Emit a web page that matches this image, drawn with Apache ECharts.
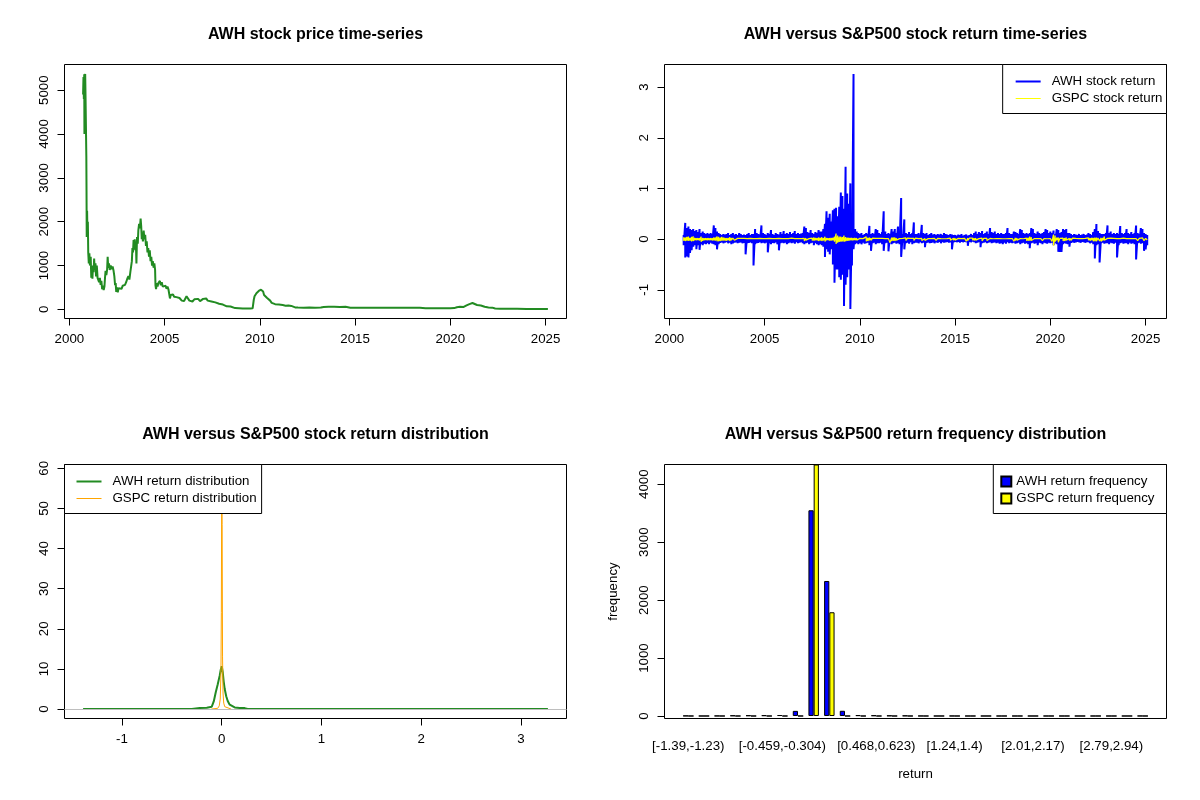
<!DOCTYPE html>
<html>
<head>
<meta charset="utf-8">
<script src="https://cdn.jsdelivr.net/npm/echarts@6/dist/echarts.min.js"></script>
<style>
html, body { margin: 0; padding: 0; background: #fff; }
#chart { width: 1200px; height: 800px; }
</style>
</head>
<body>
<div id="chart"></div>
<script>
// ---- panel 1: AWH price (decimal year, close) ----
var priceDates = [2000.72, 2000.74, 2000.76, 2000.78, 2000.79, 2000.81, 2000.83, 2000.85, 2000.87, 2000.89,
  2000.90, 2000.91, 2000.93, 2000.95, 2000.97, 2000.99, 2001.02, 2001.05, 2001.08, 2001.12,
  2001.15, 2001.18, 2001.21, 2001.24, 2001.27, 2001.30, 2001.33, 2001.37, 2001.40, 2001.44,
  2001.48, 2001.52, 2001.56, 2001.60, 2001.64, 2001.68, 2001.72, 2001.76, 2001.80, 2001.84,
  2001.87, 2001.90, 2001.94, 2001.98, 2002.01, 2002.04, 2002.08, 2002.12, 2002.17, 2002.22,
  2002.27, 2002.32, 2002.36, 2002.40, 2002.43, 2002.46, 2002.50, 2002.54, 2002.58, 2002.63,
  2002.68, 2002.74, 2002.80, 2002.86, 2002.92, 2002.98, 2003.04, 2003.10, 2003.15, 2003.20,
  2003.25, 2003.28, 2003.31, 2003.34, 2003.37, 2003.40, 2003.43, 2003.46, 2003.49, 2003.52,
  2003.55, 2003.59, 2003.62, 2003.66, 2003.70, 2003.74, 2003.77, 2003.80, 2003.83, 2003.86,
  2003.90, 2003.94, 2003.98, 2004.02, 2004.06, 2004.10, 2004.14, 2004.18, 2004.22, 2004.26,
  2004.30, 2004.34, 2004.38, 2004.42, 2004.46, 2004.50, 2004.52, 2004.55, 2004.59, 2004.63,
  2004.67, 2004.71, 2004.75, 2004.80, 2004.85, 2004.90, 2004.95, 2005.00, 2005.05, 2005.10,
  2005.15, 2005.20, 2005.25, 2005.28, 2005.32, 2005.38, 2005.44, 2005.50, 2005.56, 2005.62,
  2005.70, 2005.78, 2005.86, 2005.90, 2005.96, 2006.02, 2006.08, 2006.15, 2006.22, 2006.30,
  2006.38, 2006.46, 2006.56, 2006.66, 2006.76, 2006.86, 2006.96, 2007.02, 2007.05, 2007.10,
  2007.18, 2007.26, 2007.36, 2007.46, 2007.56, 2007.66, 2007.76, 2007.86, 2007.96, 2008.06,
  2008.16, 2008.26, 2008.36, 2008.46, 2008.56, 2008.70, 2008.90, 2009.10, 2009.30, 2009.50,
  2009.62, 2009.66, 2009.68, 2009.72, 2009.76, 2009.82, 2009.88, 2009.94, 2010.00, 2010.06,
  2010.10, 2010.13, 2010.17, 2010.22, 2010.30, 2010.38, 2010.46, 2010.54, 2010.62, 2010.70,
  2010.80, 2010.90, 2011.00, 2011.10, 2011.20, 2011.35, 2011.50, 2011.65, 2011.75, 2011.85,
  2012.00, 2012.30, 2012.60, 2012.90, 2013.20, 2013.35, 2013.60, 2013.90, 2014.20, 2014.50,
  2014.75, 2015.00, 2015.50, 2016.00, 2016.50, 2017.00, 2017.30, 2017.60, 2018.00, 2018.40,
  2018.70, 2019.00, 2019.50, 2020.00, 2020.20, 2020.34, 2020.50, 2020.70, 2020.85, 2021.00,
  2021.10, 2021.16, 2021.25, 2021.40, 2021.60, 2021.80, 2022.00, 2022.20, 2022.35, 2022.60,
  2023.00, 2023.50, 2024.00, 2024.50, 2025.00, 2025.12];
var priceValues = [4900, 5300, 4800, 5360, 4000, 5200, 5370, 4800, 4830, 3500,
  2700, 1650, 2250, 1700, 2000, 1300, 1050, 1280, 1000, 1200,
  720, 950, 700, 1000, 850, 1160, 900, 1050, 750, 1000,
  720, 750, 620, 720, 560, 650, 460, 540, 440, 520,
  720, 880, 780, 900, 1200, 950, 1050, 900, 1000, 920,
  980, 880, 760, 550, 600, 400, 500, 390, 480, 450,
  520, 470, 540, 500, 560, 620, 700, 760, 680, 850,
  820, 1100, 1400, 1300, 1580, 1450, 1600, 1350, 1550, 1050,
  1650, 1500, 1800, 1950, 1850, 2070, 1900, 1600, 1750, 1550,
  1800, 1600, 1700, 1450, 1550, 1300, 1400, 1200, 1350, 1100,
  1200, 1000, 1100, 950, 1050, 900, 550, 460, 600, 520,
  600, 560, 650, 550, 620, 520, 560, 480, 540, 470,
  520, 460, 480, 250, 330, 300, 340, 290, 320, 280,
  300, 260, 290, 200, 230, 190, 230, 300, 270, 200,
  220, 180, 230, 200, 240, 190, 210, 240, 280, 230,
  250, 200, 220, 180, 190, 160, 180, 130, 140, 110,
  120, 70, 60, 65, 40, 30, 25, 20, 22, 20,
  25, 60, 220, 300, 280, 370, 340, 420, 400, 450,
  420, 490, 410, 330, 300, 260, 220, 200, 150, 130,
  120, 100, 110, 95, 100, 85, 90, 80, 60, 45,
  42, 40, 42, 40, 43, 55, 58, 60, 55, 58,
  38, 36, 38, 35, 37, 35, 40, 36, 38, 35,
  28, 26, 28, 25, 30, 50, 58, 55, 90, 120,
  135, 145, 110, 100, 90, 60, 45, 40, 20, 15,
  13, 12, 10, 9, 8, 7];

// ---- panel 2: monthly envelope of daily returns, Oct 2000 .. Feb 2025 ----
var retStart = 2000.75;
var awhHi = [0.08, 0.32, 0.22,
  0.25, 0.2, 0.18, 0.2, 0.16, 0.18, 0.14, 0.2, 0.12, 0.15, 0.12, 0.1,      // 2001
  0.12, 0.1, 0.12, 0.1, 0.27, 0.22, 0.15, 0.12, 0.1, 0.08, 0.1, 0.09,      // 2002
  0.1, 0.12, 0.08, 0.1, 0.12, 0.09, 0.1, 0.08, 0.12, 0.1, 0.08, 0.09,      // 2003
  0.08, 0.1, 0.12, 0.08, 0.1, 0.1, 0.2, 0.12, 0.1, 0.09, 0.27, 0.12,       // 2004
  0.1, 0.08, 0.12, 0.1, 0.18, 0.1, 0.08, 0.12, 0.1, 0.09, 0.14, 0.1,       // 2005
  0.16, 0.1, 0.12, 0.1, 0.14, 0.1, 0.12, 0.16, 0.1, 0.12, 0.1, 0.11,       // 2006
  0.12, 0.25, 0.22, 0.14, 0.12, 0.18, 0.12, 0.1, 0.14, 0.12, 0.18, 0.15,   // 2007
  0.15, 0.2, 0.3, 0.55, 0.42, 0.5, 0.35, 0.57, 0.6, 0.62, 0.45, 0.64,      // 2008
  0.92, 0.85, 0.6, 1.43, 0.9, 0.7, 1.1, 0.5, 3.26, 0.2, 0.15, 0.12,        // 2009
  0.1, 0.12, 0.08, 0.1, 0.12, 0.1, 0.26, 0.1, 0.12, 0.1, 0.2, 0.18,        // 2010
  0.12, 0.1, 0.14, 0.55, 0.15, 0.1, 0.12, 0.1, 0.2, 0.15, 0.2, 0.12,       // 2011
  0.25, 0.12, 0.81, 0.1, 0.39, 0.12, 0.1, 0.14, 0.1, 0.12, 0.33, 0.1,      // 2012
  0.1, 0.12, 0.09, 0.28, 0.12, 0.1, 0.12, 0.08, 0.1, 0.12, 0.09, 0.1,      // 2013
  0.08, 0.1, 0.09, 0.1, 0.08, 0.12, 0.1, 0.09, 0.08, 0.1, 0.09, 0.08,      // 2014
  0.08, 0.07, 0.09, 0.08, 0.1, 0.07, 0.08, 0.09, 0.07, 0.08, 0.1, 0.08,    // 2015
  0.12, 0.15, 0.1, 0.14, 0.12, 0.16, 0.1, 0.12, 0.15, 0.1, 0.22, 0.14,     // 2016
  0.12, 0.15, 0.1, 0.12, 0.1, 0.12, 0.1, 0.1, 0.12, 0.22, 0.12, 0.1,       // 2017
  0.1, 0.15, 0.14, 0.12, 0.1, 0.2, 0.18, 0.12, 0.1, 0.12, 0.1, 0.12,       // 2018
  0.22, 0.2, 0.12, 0.1, 0.15, 0.12, 0.1, 0.12, 0.14, 0.2, 0.18, 0.12,      // 2019
  0.15, 0.12, 0.17, 0.1, 0.2, 0.18, 0.12, 0.14, 0.2, 0.18, 0.2, 0.12,      // 2020
  0.12, 0.1, 0.08, 0.1, 0.09, 0.08, 0.1, 0.08, 0.09, 0.1, 0.08, 0.09,      // 2021
  0.12, 0.1, 0.08, 0.14, 0.2, 0.3, 0.16, 0.12, 0.1, 0.1, 0.1, 0.12,        // 2022
  0.27, 0.12, 0.15, 0.1, 0.12, 0.1, 0.12, 0.1, 0.26, 0.12, 0.1, 0.12,      // 2023
  0.2, 0.12, 0.1, 0.14, 0.1, 0.12, 0.27, 0.12, 0.1, 0.22, 0.2, 0.12,       // 2024
  0.1, 0.08];
var awhLo = [-0.12, -0.36, -0.34,
  -0.36, -0.27, -0.22, -0.15, -0.12, -0.2, -0.12, -0.21, -0.1, -0.12, -0.09, -0.1,
  -0.08, -0.1, -0.07, -0.09, -0.1, -0.12, -0.2, -0.1, -0.07, -0.06, -0.08, -0.07,
  -0.06, -0.08, -0.07, -0.1, -0.08, -0.07, -0.06, -0.08, -0.07, -0.06, -0.08, -0.07,
  -0.3, -0.08, -0.07, -0.06, -0.08, -0.52, -0.1, -0.08, -0.07, -0.06, -0.08, -0.07,
  -0.08, -0.07, -0.26, -0.08, -0.1, -0.07, -0.08, -0.06, -0.1, -0.22, -0.08, -0.07,
  -0.08, -0.07, -0.1, -0.08, -0.06, -0.08, -0.07, -0.09, -0.06, -0.08, -0.07, -0.06,
  -0.08, -0.1, -0.08, -0.07, -0.1, -0.08, -0.07, -0.12, -0.08, -0.1, -0.12, -0.1,
  -0.12, -0.15, -0.35, -0.2, -0.25, -0.3, -0.2, -0.5, -0.86, -0.6, -0.6, -0.75,
  -0.8, -0.7, -1.32, -0.9, -0.75, -0.6, -1.38, -0.52, -0.2, -0.1, -0.08, -0.1,
  -0.08, -0.1, -0.07, -0.09, -0.08, -0.07, -0.12, -0.23, -0.08, -0.07, -0.1, -0.08,
  -0.08, -0.07, -0.1, -0.23, -0.08, -0.07, -0.24, -0.08, -0.1, -0.08, -0.07, -0.09,
  -0.08, -0.1, -0.35, -0.07, -0.2, -0.08, -0.07, -0.09, -0.06, -0.1, -0.08, -0.07,
  -0.07, -0.08, -0.06, -0.08, -0.07, -0.16, -0.07, -0.06, -0.08, -0.07, -0.06, -0.08,
  -0.06, -0.07, -0.05, -0.08, -0.06, -0.07, -0.06, -0.05, -0.07, -0.06, -0.2, -0.06,
  -0.05, -0.06, -0.05, -0.07, -0.05, -0.06, -0.05, -0.06, -0.13, -0.05, -0.06, -0.05,
  -0.06, -0.08, -0.07, -0.06, -0.16, -0.08, -0.07, -0.06, -0.08, -0.07, -0.06, -0.08,
  -0.07, -0.06, -0.08, -0.07, -0.09, -0.08, -0.1, -0.07, -0.09, -0.06, -0.08, -0.07,
  -0.08, -0.07, -0.09, -0.08, -0.07, -0.1, -0.08, -0.07, -0.09, -0.08, -0.1, -0.18,
  -0.08, -0.07, -0.09, -0.08, -0.12, -0.07, -0.08, -0.1, -0.07, -0.08, -0.09, -0.07,
  -0.08, -0.07, -0.12, -0.08, -0.1, -0.25, -0.25, -0.25, -0.1, -0.08, -0.09, -0.1,
  -0.15, -0.07, -0.06, -0.07, -0.06, -0.05, -0.06, -0.07, -0.05, -0.06, -0.07, -0.06,
  -0.06, -0.08, -0.07, -0.1, -0.38, -0.12, -0.1, -0.46, -0.08, -0.07, -0.09, -0.08,
  -0.08, -0.1, -0.07, -0.08, -0.09, -0.07, -0.36, -0.12, -0.08, -0.07, -0.09, -0.08,
  -0.08, -0.1, -0.07, -0.09, -0.08, -0.1, -0.4, -0.08, -0.07, -0.09, -0.08, -0.23,
  -0.2, -0.12];
var gspcHi = [0.035, 0.03, 0.045,
  0.05, 0.025, 0.045, 0.055, 0.025, 0.02, 0.02, 0.02, 0.05, 0.025, 0.02, 0.02,
  0.02, 0.02, 0.02, 0.02, 0.03, 0.03, 0.055, 0.045, 0.03, 0.045, 0.03, 0.025,
  0.02, 0.02, 0.035, 0.025, 0.02, 0.02, 0.015, 0.015, 0.02, 0.015, 0.015, 0.015,
  0.012, 0.012, 0.015, 0.015, 0.015, 0.012, 0.012, 0.012, 0.01, 0.015, 0.012, 0.01,
  0.012, 0.01, 0.01, 0.015, 0.012, 0.01, 0.01, 0.01, 0.01, 0.015, 0.012, 0.01,
  0.015, 0.01, 0.01, 0.01, 0.012, 0.02, 0.015, 0.01, 0.01, 0.01, 0.01, 0.01,
  0.01, 0.015, 0.02, 0.01, 0.01, 0.015, 0.02, 0.03, 0.025, 0.02, 0.03, 0.025,
  0.035, 0.02, 0.045, 0.025, 0.02, 0.02, 0.025, 0.025, 0.045, 0.11, 0.07, 0.05,
  0.05, 0.04, 0.07, 0.04, 0.03, 0.025, 0.025, 0.025, 0.02, 0.025, 0.02, 0.015,
  0.015, 0.015, 0.01, 0.015, 0.045, 0.025, 0.03, 0.02, 0.02, 0.015, 0.015, 0.01,
  0.015, 0.015, 0.015, 0.01, 0.01, 0.015, 0.01, 0.045, 0.03, 0.035, 0.03, 0.02,
  0.015, 0.01, 0.015, 0.015, 0.015, 0.025, 0.02, 0.01, 0.015, 0.01, 0.015, 0.02,
  0.025, 0.01, 0.01, 0.015, 0.01, 0.015, 0.01, 0.01, 0.01, 0.01, 0.01, 0.015,
  0.01, 0.015, 0.01, 0.01, 0.01, 0.008, 0.01, 0.01, 0.01, 0.02, 0.01, 0.02,
  0.02, 0.015, 0.015, 0.01, 0.01, 0.015, 0.015, 0.04, 0.02, 0.02, 0.015, 0.02,
  0.02, 0.02, 0.015, 0.01, 0.01, 0.02, 0.015, 0.008, 0.015, 0.01, 0.015, 0.01,
  0.008, 0.01, 0.01, 0.01, 0.01, 0.01, 0.008, 0.01, 0.008, 0.008, 0.01, 0.01,
  0.012, 0.04, 0.025, 0.02, 0.012, 0.01, 0.01, 0.008, 0.008, 0.02, 0.025, 0.05,
  0.035, 0.01, 0.012, 0.01, 0.012, 0.015, 0.01, 0.015, 0.01, 0.012, 0.008, 0.008,
  0.012, 0.045, 0.09, 0.07, 0.03, 0.03, 0.015, 0.01, 0.02, 0.02, 0.03, 0.015,
  0.015, 0.015, 0.02, 0.015, 0.015, 0.01, 0.012, 0.01, 0.012, 0.015, 0.015, 0.02,
  0.025, 0.02, 0.025, 0.025, 0.03, 0.03, 0.02, 0.02, 0.025, 0.025, 0.054, 0.015,
  0.015, 0.015, 0.02, 0.015, 0.015, 0.012, 0.01, 0.015, 0.01, 0.012, 0.02, 0.015,
  0.012, 0.02, 0.01, 0.012, 0.012, 0.01, 0.012, 0.025, 0.015, 0.012, 0.025, 0.012,
  0.015, 0.012];
var gspcLo = [-0.03, -0.035, -0.03,
  -0.03, -0.03, -0.045, -0.035, -0.02, -0.02, -0.02, -0.025, -0.05, -0.03, -0.02, -0.02,
  -0.02, -0.02, -0.02, -0.025, -0.025, -0.03, -0.04, -0.04, -0.035, -0.03, -0.025, -0.03,
  -0.03, -0.02, -0.035, -0.02, -0.015, -0.02, -0.015, -0.015, -0.02, -0.015, -0.015, -0.015,
  -0.012, -0.015, -0.015, -0.012, -0.015, -0.01, -0.015, -0.012, -0.01, -0.012, -0.01, -0.01,
  -0.012, -0.01, -0.012, -0.015, -0.01, -0.01, -0.01, -0.012, -0.01, -0.015, -0.01, -0.01,
  -0.015, -0.01, -0.01, -0.012, -0.018, -0.015, -0.015, -0.01, -0.01, -0.01, -0.012, -0.01,
  -0.01, -0.035, -0.02, -0.01, -0.015, -0.02, -0.025, -0.03, -0.02, -0.025, -0.035, -0.025,
  -0.035, -0.025, -0.045, -0.02, -0.02, -0.03, -0.025, -0.025, -0.05, -0.095, -0.07, -0.055,
  -0.05, -0.045, -0.05, -0.04, -0.03, -0.03, -0.02, -0.025, -0.02, -0.02, -0.02, -0.015,
  -0.02, -0.015, -0.01, -0.015, -0.04, -0.035, -0.02, -0.025, -0.015, -0.015, -0.015, -0.01,
  -0.015, -0.02, -0.02, -0.01, -0.015, -0.015, -0.02, -0.07, -0.035, -0.03, -0.035, -0.02,
  -0.01, -0.01, -0.02, -0.015, -0.015, -0.025, -0.015, -0.01, -0.01, -0.015, -0.025, -0.015,
  -0.01, -0.02, -0.01, -0.025, -0.015, -0.025, -0.015, -0.015, -0.01, -0.015, -0.01, -0.01,
  -0.025, -0.01, -0.015, -0.015, -0.01, -0.008, -0.02, -0.01, -0.015, -0.02, -0.008, -0.02,
  -0.02, -0.015, -0.02, -0.01, -0.01, -0.02, -0.01, -0.04, -0.025, -0.015, -0.015, -0.02,
  -0.025, -0.02, -0.015, -0.01, -0.015, -0.036, -0.01, -0.008, -0.025, -0.01, -0.015, -0.01,
  -0.008, -0.008, -0.015, -0.01, -0.018, -0.01, -0.008, -0.015, -0.008, -0.005, -0.008, -0.008,
  -0.01, -0.04, -0.025, -0.02, -0.012, -0.014, -0.008, -0.01, -0.008, -0.03, -0.03, -0.03,
  -0.025, -0.008, -0.02, -0.01, -0.025, -0.012, -0.01, -0.03, -0.01, -0.018, -0.008, -0.008,
  -0.018, -0.045, -0.13, -0.045, -0.02, -0.06, -0.01, -0.01, -0.035, -0.035, -0.02, -0.015,
  -0.025, -0.025, -0.015, -0.01, -0.02, -0.01, -0.015, -0.01, -0.02, -0.015, -0.02, -0.02,
  -0.02, -0.03, -0.02, -0.04, -0.04, -0.04, -0.015, -0.035, -0.045, -0.025, -0.02, -0.025,
  -0.015, -0.02, -0.018, -0.015, -0.015, -0.01, -0.01, -0.014, -0.016, -0.015, -0.01, -0.01,
  -0.01, -0.01, -0.01, -0.015, -0.015, -0.01, -0.02, -0.03, -0.02, -0.02, -0.012, -0.03,
  -0.015, -0.017];

// ---- panel 3: kernel density estimates ----
var awhDensX = [-1.39, -0.3, -0.22, -0.15, -0.1, -0.08, -0.06, -0.04, -0.02, -0.01, 0, 0.01,
  0.02, 0.03, 0.045, 0.06, 0.08, 0.1, 0.13, 0.18, 0.23, 0.26, 3.27];
var awhDensY = [0, 0.02, 0.25, 0.35, 0.6, 1.9, 4.2, 6.2, 8.4, 9.8, 10.7, 9.2,
  6.8, 5.0, 3.2, 2.0, 1.1, 0.7, 0.4, 0.3, 0.25, 0.02, 0];
var gspcDensX = [-0.105, -0.04, -0.025, -0.015, -0.008, -0.004, 0, 0.004, 0.008, 0.013, 0.02, 0.03, 0.045, 0.095];
var gspcDensY = [0, 0.2, 0.8, 2.5, 9, 24, 58.6, 46, 13, 4, 1.5, 0.6, 0.2, 0];

// ---- panel 4: return histogram counts ----
var binLabels = ['[-1.39,-1.23)', '[-1.23,-1.08)', '[-1.08,-0.923)', '[-0.923,-0.768)', '[-0.768,-0.613)',
  '[-0.613,-0.459)', '[-0.459,-0.304)', '[-0.304,-0.149)', '[-0.149,0.0054)', '[0.0054,0.16)',
  '[0.16,0.314)', '[0.314,0.468)', '[0.468,0.623)', '[0.623,0.778)', '[0.778,0.932)',
  '[0.932,1.09)', '[1.09,1.24)', '[1.24,1.4)', '[1.4,1.55)', '[1.55,1.71)',
  '[1.71,1.86)', '[1.86,2.01)', '[2.01,2.17)', '[2.17,2.32)', '[2.32,2.48)',
  '[2.48,2.63)', '[2.63,2.79)', '[2.79,2.94)', '[2.94,3.1)', '[3.1,3.25]'];
var binLabelShown = [0, 6, 12, 17, 22, 27];
var awhFreq = [3, 0, 2, 8, 10, 12, 16, 88, 3550, 2330, 90, 14, 10, 6, 5,
  1, 0, 1, 0, 0, 0, 0, 0, 0, 0, 0, 0, 0, 0, 1];
var gspcFreq = [0, 0, 0, 0, 0, 0, 0, 0, 4340, 1790, 0, 0, 0, 0, 0,
  0, 0, 0, 0, 0, 0, 0, 0, 0, 0, 0, 0, 0, 0, 0];

var W = 1200, H = 800;
var FONT = '"Liberation Sans", Arial, sans-serif';
var BLACK = '#000';

// plot boxes (R mfrow 2x2, default margins)
var box1 = {l: 64.5, t: 64.5, r: 566.5, b: 318.5};
var box2 = {l: 664.5, t: 64.5, r: 1166.5, b: 318.5};
var box3 = {l: 64.5, t: 464.5, r: 566.5, b: 718.5};
var box4 = {l: 664.5, t: 464.5, r: 1166.5, b: 718.5};

// R style axis range: data range plus 4% each side
function rng(lo, hi) { var p = (hi - lo) * 0.04; return [lo - p, hi + p]; }
function minOf(a) { return Math.min.apply(null, a); }
function maxOf(a) { return Math.max.apply(null, a); }
function px(v, r, a, b) { return a + (v - r[0]) / (r[1] - r[0]) * (b - a); }

var xr1 = rng(minOf(priceDates), maxOf(priceDates));
var yr1 = rng(minOf(priceValues), maxOf(priceValues));
var yr2 = rng(minOf(awhLo), maxOf(awhHi));
var xr3 = rng(minOf(awhDensX), maxOf(awhDensX));
var yr3 = rng(0, maxOf(gspcDensY));
var top4 = Math.max(maxOf(awhFreq), maxOf(gspcFreq));
var yr4 = [-0.01 * top4, top4];
var xr4 = rng(1, 3 * binLabels.length);   // barplot units, beside, space c(0,1)

function gridOf(box, show) {
  return {left: box.l, top: box.t, right: W - box.r, bottom: H - box.b,
    show: show, borderColor: BLACK, borderWidth: 1, backgroundColor: 'transparent'};
}
// grid spanning the tick range, with axis offsets back to the box edges
function tickGrid(box, xr, yr, xt, yt) {
  var l = px(xt[0], xr, box.l, box.r), r = px(xt[1], xr, box.l, box.r);
  var b = box.b - (yt[0] - yr[0]) / (yr[1] - yr[0]) * (box.b - box.t);
  var t = box.b - (yt[1] - yr[0]) / (yr[1] - yr[0]) * (box.b - box.t);
  return {grid: {left: l, right: W - r, top: t, bottom: H - b, show: false},
    xOff: box.b - b, yOff: l - box.l};
}
var tg1 = tickGrid(box1, xr1, yr1, [2000, 2025], [0, 5000]);
var tg2 = tickGrid(box2, xr1, yr2, [2000, 2025], [-1, 3]);
var tg3 = tickGrid(box3, xr3, yr3, [-1, 3], [0, 60]);
var tg4 = tickGrid(box4, xr4, yr4, xr4, [0, 4000]);
var barGrid = {left: px(0.5, xr4, box4.l, box4.r), right: W - px(3 * binLabels.length + 0.5, xr4, box4.l, box4.r),
  top: box4.t, bottom: H - box4.b, show: false};

var labelStyle = {fontFamily: FONT, fontSize: 13.3, color: BLACK};
function plain(v) { return String(v); }
function hiddenAxis(gi, r) {
  return {type: 'value', gridIndex: gi, min: r[0], max: r[1], show: false, axisLine: {onZero: false}};
}
function tickX(gi, t, step, off) {
  return {type: 'value', gridIndex: gi, min: t[0], max: t[1], interval: step, offset: off,
    axisLine: {show: false, onZero: false}, splitLine: {show: false},
    axisTick: {show: true, length: 7, lineStyle: {color: BLACK, width: 1}},
    axisLabel: Object.assign({margin: 14, formatter: plain}, labelStyle)};
}
function tickY(gi, t, step, off) {
  return {type: 'value', gridIndex: gi, min: t[0], max: t[1], interval: step, offset: off,
    axisLine: {show: false, onZero: false}, splitLine: {show: false},
    axisTick: {show: true, length: 7, lineStyle: {color: BLACK, width: 1}},
    axisLabel: Object.assign({margin: 14, rotate: 90, formatter: plain}, labelStyle)};
}

function pairs(xs, ys) {
  var out = [];
  for (var i = 0; i < xs.length; i++) out.push([xs[i], ys[i]]);
  return out;
}
// daily series drawn as a dense up/down trace of each month's high and low
function zigzag(hi, lo) {
  var out = [];
  for (var i = 0; i < hi.length; i++) {
    var d = retStart + i / 12;
    out.push([d, hi[i]], [d, lo[i]]);
  }
  return out;
}

function lineSeries(name, gi, data, color, width) {
  return {name: name, type: 'line', xAxisIndex: gi, yAxisIndex: gi, data: data,
    symbol: 'none', showSymbol: false, silent: true,
    lineStyle: {color: color, width: width, join: 'bevel'}, itemStyle: {color: color}};
}

function titleAt(text, box, y) {
  return {text: text, left: (box.l + box.r) / 2, top: y, textAlign: 'center', padding: 0,
    textStyle: {fontFamily: FONT, fontSize: 16, fontWeight: 'bold', color: BLACK}};
}

var THICK = 'path://M0,0L25,0L25,2L0,2Z';
var THIN = 'path://M0,0L25,0L25,1L0,1Z';
var legendBase = {orient: 'vertical', borderColor: BLACK, borderWidth: 1, borderRadius: 0,
  backgroundColor: '#fff', itemGap: 3, itemHeight: 14, itemWidth: 25, selectedMode: false,
  textStyle: {fontFamily: FONT, fontSize: 13.3, color: BLACK, lineHeight: 14, padding: [0, 0, 0, 6]}};

var awhRet = lineSeries('AWH stock return', 2, zigzag(awhHi, awhLo), '#0000FF', 2);
var gspcRet = lineSeries('GSPC stock return', 2, zigzag(gspcHi, gspcLo), '#FFFF00', 1.2);
var awhDens = lineSeries('AWH return distribution', 4, pairs(awhDensX, awhDensY), '#228B22', 2);
awhDens.markLine = {silent: true, symbol: 'none', label: {show: false},
  lineStyle: {color: '#BEBEBE', width: 1, type: 'solid'}, data: [{yAxis: 0}]};
var gspcDens = lineSeries('GSPC return distribution', 4, pairs(gspcDensX, gspcDensY), '#FFA500', 1);

function barSeries(name, data, color) {
  return {name: name, type: 'bar', xAxisIndex: 7, yAxisIndex: 7, data: data, silent: true,
    barGap: '0%', barCategoryGap: '33.333%',
    itemStyle: {color: color, borderColor: BLACK, borderWidth: 1}};
}

var option = {
  animation: false,
  backgroundColor: '#fff',
  title: [
    titleAt('AWH stock price time-series', box1, 27),
    titleAt('AWH versus S&P500 stock return time-series', box2, 27),
    titleAt('AWH versus S&P500 stock return distribution', box3, 427),
    titleAt('AWH versus S&P500 return frequency distribution', box4, 427)
  ],
  legend: [
    Object.assign({}, legendBase, {
      data: [{name: 'AWH stock return', icon: THICK}, {name: 'GSPC stock return', icon: THIN}],
      right: W - box2.r, top: box2.t, padding: [10, 4, 8, 13]}),
    Object.assign({}, legendBase, {
      data: [{name: 'AWH return distribution', icon: THICK}, {name: 'GSPC return distribution', icon: THIN}],
      left: box3.l, top: box3.t, padding: [10, 5, 8, 12]}),
    Object.assign({}, legendBase, {data: ['AWH return frequency', 'GSPC return frequency'],
      right: W - box4.r, top: box4.t, padding: [10, 12, 8, 7], icon: 'rect', itemWidth: 10, itemHeight: 10,
      itemGap: 3, textStyle: {fontFamily: FONT, fontSize: 13.3, color: BLACK, lineHeight: 14}})
  ],
  grid: [
    gridOf(box1, true), tg1.grid,
    gridOf(box2, true), tg2.grid,
    gridOf(box3, true), tg3.grid,
    gridOf(box4, true), barGrid, tg4.grid
  ],
  xAxis: [
    hiddenAxis(0, xr1), tickX(1, [2000, 2025], 5, tg1.xOff),
    hiddenAxis(2, xr1), tickX(3, [2000, 2025], 5, tg2.xOff),
    hiddenAxis(4, xr3), tickX(5, [-1, 3], 1, tg3.xOff),
    hiddenAxis(6, xr4),
    {type: 'category', gridIndex: 7, data: binLabels,
      axisLine: {show: false, onZero: false}, axisTick: {show: false}, splitLine: {show: false},
      axisLabel: Object.assign({margin: 21, interval: function (i) { return binLabelShown.indexOf(i) >= 0; }}, labelStyle),
      name: 'return', nameLocation: 'middle', nameGap: 49, nameTextStyle: labelStyle},
    hiddenAxis(8, xr4)
  ],
  yAxis: [
    hiddenAxis(0, yr1), tickY(1, [0, 5000], 1000, tg1.yOff),
    hiddenAxis(2, yr2), tickY(3, [-1, 3], 1, tg2.yOff),
    hiddenAxis(4, yr3), tickY(5, [0, 60], 10, tg3.yOff),
    {type: 'value', gridIndex: 6, min: yr4[0], max: yr4[1],
      axisLine: {show: false, onZero: false}, axisTick: {show: false}, axisLabel: {show: false}, splitLine: {show: false},
      name: 'frequency', nameLocation: 'middle', nameGap: 45, nameTextStyle: labelStyle},
    hiddenAxis(7, yr4),
    tickY(8, [0, 4000], 1000, tg4.yOff)
  ],
  series: [
    lineSeries('AWH price', 0, pairs(priceDates, priceValues), '#228B22', 2),
    awhRet, gspcRet,
    awhDens, gspcDens,
    barSeries('AWH return frequency', awhFreq, '#0000FF'),
    barSeries('GSPC return frequency', gspcFreq, '#FFFF00')
  ]
};

var chart = echarts.init(document.getElementById('chart'), null, {renderer: 'canvas'});
chart.setOption(option);
</script>
</body>
</html>
